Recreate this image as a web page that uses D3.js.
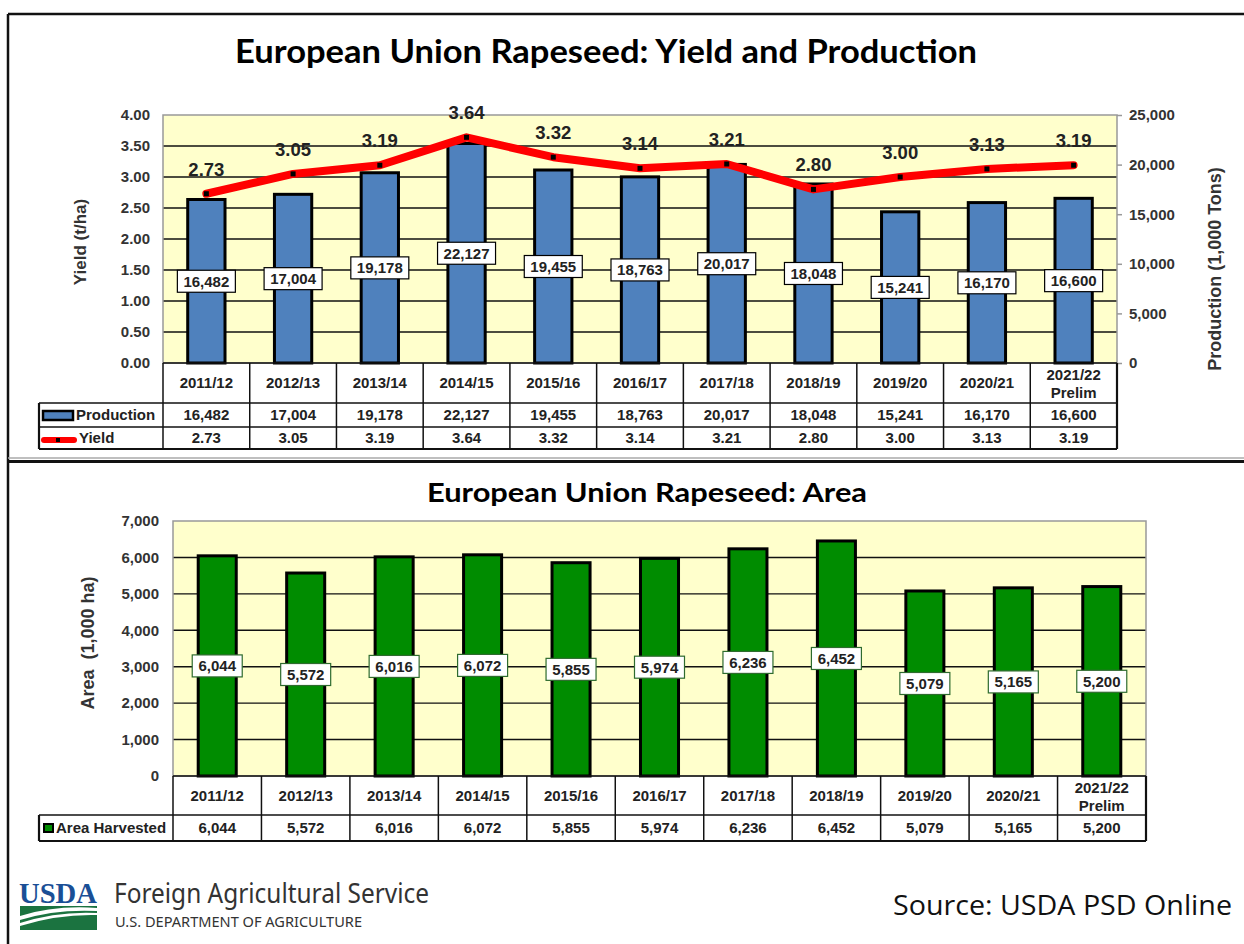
<!DOCTYPE html>
<html>
<head>
<meta charset="utf-8">
<script src="https://cdnjs.cloudflare.com/ajax/libs/d3/7.8.5/d3.min.js"></script>
<style>
  body { margin: 0; background: #fff; }
  svg { display: block; }
  text { font-family: "Liberation Sans", Arial, sans-serif; }
</style>
</head>
<body>
<svg id="chart" width="1244" height="944"></svg>
<script>
// data
var categories = ["2011/12", "2012/13", "2013/14", "2014/15", "2015/16", "2016/17",
                  "2017/18", "2018/19", "2019/20", "2020/21", "2021/22 Prelim"];
var production = [16482, 17004, 19178, 22127, 19455, 18763, 20017, 18048, 15241, 16170, 16600];
var yieldVals = [2.73, 3.05, 3.19, 3.64, 3.32, 3.14, 3.21, 2.80, 3.00, 3.13, 3.19];
var area = [6044, 5572, 6016, 6072, 5855, 5974, 6236, 6452, 5079, 5165, 5200];
var yieldTicks = [0, 0.5, 1, 1.5, 2, 2.5, 3, 3.5, 4];
var prodTicks = [0, 5000, 10000, 15000, 20000, 25000];
var areaTicks = [0, 1000, 2000, 3000, 4000, 5000, 6000, 7000];

var BG = "#ffffcc", BLUE = "#4f81bd", GREEN = "#008c00", RED = "#ff0000";
var comma = d3.format(",");

var svg = d3.select("#chart");

// frame
svg.append("line").attr("x1", 8).attr("x2", 1244).attr("y1", 14).attr("y2", 14)
  .attr("stroke", "#111").attr("stroke-width", 2.5);
svg.append("line").attr("x1", 8).attr("x2", 8).attr("y1", 14).attr("y2", 944)
  .attr("stroke", "#111").attr("stroke-width", 2.5);
svg.append("line").attr("x1", 8).attr("x2", 1244).attr("y1", 458).attr("y2", 458)
  .attr("stroke", "#aaa").attr("stroke-width", 1.5);
svg.append("line").attr("x1", 8).attr("x2", 1244).attr("y1", 461.5).attr("y2", 461.5)
  .attr("stroke", "#111").attr("stroke-width", 3);

function bandScale(x0, x1) {
  return d3.scaleBand().domain(categories).range([x0, x1]).paddingInner(0.57).paddingOuter(0.285);
}

function drawTable(x, y0, headerH, rows, legendX) {
  var g = svg.append("g");
  var step = x.step(), x0 = x.range()[0], x1 = x.range()[1];
  // header
  categories.forEach(function (d) {
    var cx = x(d) + x.bandwidth() / 2;
    var parts = d.split(" ");
    var t = g.append("text").attr("x", cx).attr("text-anchor", "middle")
      .attr("font-size", 15).attr("font-weight", "bold").attr("fill", "#222");
    if (parts.length == 1) {
      t.attr("y", y0 + headerH / 2 + 5).text(d);
    } else {
      t.append("tspan").attr("x", cx).attr("y", y0 + headerH / 2 - 3).text(parts[0]);
      t.append("tspan").attr("x", cx).attr("y", y0 + headerH / 2 + 15).text(parts[1]);
    }
  });
  var yy = y0 + headerH;
  rows.forEach(function (r) {
    categories.forEach(function (d, i) {
      g.append("text").attr("x", x(d) + x.bandwidth() / 2).attr("y", yy + r.h / 2 + 5)
        .attr("text-anchor", "middle").attr("font-size", 15).attr("font-weight", "bold")
        .attr("fill", "#222").text(r.fmt(r.values[i]));
    });
    r.key(g, legendX, yy, r.h);
    g.append("text").attr("x", r.textX).attr("y", yy + r.h / 2 + 5)
      .attr("font-size", 15).attr("font-weight", "bold").attr("fill", "#222").text(r.label);
    yy += r.h;
  });
  var total = yy;
  // grid lines
  var lines = g.append("g").attr("stroke", "#111").attr("stroke-width", 1.5).attr("fill", "none");
  for (var i = 0; i <= categories.length; i++) {
    var xx = x0 + i * step;
    lines.append("line").attr("x1", xx).attr("x2", xx).attr("y1", y0).attr("y2", total);
  }
  lines.append("line").attr("x1", x0).attr("x2", x1).attr("y1", y0).attr("y2", y0);
  var ry = y0 + headerH;
  rows.forEach(function (r) {
    lines.append("line").attr("x1", legendX).attr("x2", x1).attr("y1", ry).attr("y2", ry);
    ry += r.h;
  });
  lines.append("line").attr("x1", legendX).attr("x2", x1).attr("y1", total).attr("y2", total).attr("stroke-width", 2.2);
  lines.append("line").attr("x1", legendX).attr("x2", legendX).attr("y1", y0 + headerH).attr("y2", total).attr("stroke-width", 2.2);
  lines.append("line").attr("x1", x1).attr("x2", x1).attr("y1", y0).attr("y2", total).attr("stroke-width", 2.2);
}

function labelBox(g, cx, cy, txt, w, stroke) {
  g.append("rect").attr("x", cx - w / 2).attr("y", cy - 11).attr("width", w).attr("height", 22)
    .attr("fill", "#fff").attr("stroke", stroke).attr("stroke-width", 1.2);
  g.append("text").attr("x", cx).attr("y", cy + 5.5).attr("text-anchor", "middle")
    .attr("font-size", 15).attr("font-weight", "bold").attr("fill", "#222").text(txt);
}

// ---------- top chart: yield and production ----------
var x1s = bandScale(163, 1117);
var yL = d3.scaleLinear().domain([0, 4]).range([363, 115]);
var yR = d3.scaleLinear().domain([0, 25000]).range([363, 115]);

svg.append("text").attr("x", 606).attr("y", 63).attr("text-anchor", "middle")
  .style("font-family", "Lato, 'Open Sans', sans-serif").attr("font-weight", "bold")
  .attr("font-size", 32).attr("textLength", 742).attr("lengthAdjust", "spacingAndGlyphs")
  .attr("fill", "#000").text("European Union Rapeseed: Yield and Production");

var topG = svg.append("g");
topG.append("rect").attr("x", 163).attr("y", 115).attr("width", 954).attr("height", 248).attr("fill", BG);
topG.selectAll(".grid").data(yieldTicks.slice(1, -1)).join("line")
  .attr("x1", 163).attr("x2", 1117).attr("y1", yL).attr("y2", yL)
  .attr("stroke", "#111").attr("stroke-width", 1.4);
topG.append("rect").attr("x", 163).attr("y", 115).attr("width", 954).attr("height", 248)
  .attr("fill", "none").attr("stroke", "#999").attr("stroke-width", 1.5);

var axL = topG.append("g").attr("transform", "translate(163,0)")
  .call(d3.axisLeft(yL).tickValues(yieldTicks).tickFormat(d3.format(".2f")).tickSize(0).tickPadding(13));
var axR = topG.append("g").attr("transform", "translate(1117,0)")
  .call(d3.axisRight(yR).tickValues(prodTicks).tickFormat(comma).tickSize(5).tickPadding(7));
[axL, axR].forEach(function (a) {
  a.select(".domain").remove();
  a.selectAll("line").attr("stroke", "#999").attr("stroke-width", 1.5);
  a.selectAll("text").attr("font-size", 15).attr("font-weight", "bold").attr("fill", "#333")
    .style("font-family", "'Liberation Sans', Arial, sans-serif");
});

topG.append("text").attr("transform", "translate(86,242) rotate(-90)").attr("text-anchor", "middle")
  .attr("font-size", 17).attr("font-weight", "bold").attr("fill", "#333").text("Yield (t/ha)");
topG.append("text").attr("transform", "translate(1221,269) rotate(-90)").attr("text-anchor", "middle")
  .attr("font-size", 18).attr("font-weight", "bold").attr("fill", "#333").text("Production (1,000 Tons)");

topG.selectAll(".bar").data(production).join("rect")
  .attr("x", function (d, i) { return x1s(categories[i]); })
  .attr("y", function (d) { return yR(d); })
  .attr("width", x1s.bandwidth())
  .attr("height", function (d) { return yR(0) - yR(d); })
  .attr("fill", BLUE).attr("stroke", "#000").attr("stroke-width", 3);

var line = d3.line()
  .x(function (d, i) { return x1s(categories[i]) + x1s.bandwidth() / 2; })
  .y(function (d) { return yL(d); });
topG.append("path").datum(yieldVals).attr("d", line).attr("fill", "none")
  .attr("stroke", RED).attr("stroke-width", 8).attr("stroke-linecap", "round").attr("stroke-linejoin", "round");
topG.selectAll(".dot").data(yieldVals).join("rect")
  .attr("x", function (d, i) { return x1s(categories[i]) + x1s.bandwidth() / 2 - 2.5; })
  .attr("y", function (d) { return yL(d) - 2.5; })
  .attr("width", 5).attr("height", 5).attr("fill", "#000");
topG.selectAll(".ylab").data(yieldVals).join("text")
  .attr("x", function (d, i) { return x1s(categories[i]) + x1s.bandwidth() / 2; })
  .attr("y", function (d) { return yL(d) - 18; })
  .attr("text-anchor", "middle").attr("font-size", 18.5).attr("font-weight", "bold").attr("fill", "#222")
  .text(d3.format(".2f"));

production.forEach(function (d, i) {
  labelBox(topG, x1s(categories[i]) + x1s.bandwidth() / 2, (yR(d) + yR(0)) / 2, comma(d), 58, "#000");
});

drawTable(x1s, 363, 40, [
  { label: "Production", values: production, fmt: comma, h: 24, textX: 76,
    key: function (g, lx, y, h) {
      g.append("rect").attr("x", 43).attr("y", y + 8).attr("width", 30).attr("height", 9)
        .attr("fill", BLUE).attr("stroke", "#000").attr("stroke-width", 2.5);
    } },
  { label: "Yield", values: yieldVals, fmt: d3.format(".2f"), h: 22, textX: 79,
    key: function (g, lx, y, h) {
      g.append("line").attr("x1", 44).attr("x2", 74).attr("y1", y + 13).attr("y2", y + 13)
        .attr("stroke", RED).attr("stroke-width", 6).attr("stroke-linecap", "round");
      g.append("rect").attr("x", 56).attr("y", y + 11).attr("width", 4).attr("height", 4).attr("fill", "#000");
    } }
], 39);

// ---------- bottom chart: area ----------
var x2s = bandScale(173, 1146);
var yA = d3.scaleLinear().domain([0, 7000]).range([776, 521]);

svg.append("text").attr("x", 647).attr("y", 502).attr("text-anchor", "middle")
  .style("font-family", "Lato, 'Open Sans', sans-serif").attr("font-weight", "bold")
  .attr("font-size", 27).attr("textLength", 440).attr("lengthAdjust", "spacingAndGlyphs")
  .attr("fill", "#000").text("European Union Rapeseed: Area");

var bot = svg.append("g");
bot.append("rect").attr("x", 173).attr("y", 521).attr("width", 973).attr("height", 255).attr("fill", BG);
bot.selectAll(".grid").data(areaTicks.slice(1, -1)).join("line")
  .attr("x1", 173).attr("x2", 1146).attr("y1", yA).attr("y2", yA)
  .attr("stroke", "#111").attr("stroke-width", 1.4);
bot.append("rect").attr("x", 173).attr("y", 521).attr("width", 973).attr("height", 255)
  .attr("fill", "none").attr("stroke", "#999").attr("stroke-width", 1.5);

var axA = bot.append("g").attr("transform", "translate(173,0)")
  .call(d3.axisLeft(yA).tickValues(areaTicks).tickFormat(comma).tickSize(0).tickPadding(14));
axA.select(".domain").remove();
axA.selectAll("text").attr("font-size", 15).attr("font-weight", "bold").attr("fill", "#333")
  .style("font-family", "'Liberation Sans', Arial, sans-serif");

bot.append("text").attr("transform", "translate(94,643) rotate(-90)").attr("text-anchor", "middle")
  .attr("font-size", 18).attr("font-weight", "bold").attr("fill", "#333")
  .style("white-space", "pre").text("Area  (1,000 ha)");

bot.selectAll(".bar").data(area).join("rect")
  .attr("x", function (d, i) { return x2s(categories[i]); })
  .attr("y", function (d) { return yA(d); })
  .attr("width", x2s.bandwidth())
  .attr("height", function (d) { return yA(0) - yA(d); })
  .attr("fill", GREEN).attr("stroke", "#000").attr("stroke-width", 3);

area.forEach(function (d, i) {
  labelBox(bot, x2s(categories[i]) + x2s.bandwidth() / 2, (yA(d) + yA(0)) / 2, comma(d), 50, "#2e6b2e");
});

drawTable(x2s, 776, 39, [
  { label: "Area Harvested", values: area, fmt: comma, h: 26, textX: 56,
    key: function (g, lx, y, h) {
      g.append("rect").attr("x", 44).attr("y", y + 9).attr("width", 9).attr("height", 8)
        .attr("fill", GREEN).attr("stroke", "#000").attr("stroke-width", 2);
    } }
], 39);

// ---------- footer ----------
var logo = svg.append("g");
logo.append("text").attr("x", 19).attr("y", 903).style("font-family", "'Liberation Serif', serif")
  .attr("font-size", 30).attr("font-weight", "bold").attr("fill", "#1a4f96").attr("textLength", 78)
  .attr("lengthAdjust", "spacingAndGlyphs").text("USDA");
logo.append("rect").attr("x", 20).attr("y", 906).attr("width", 77).attr("height", 24).attr("fill", "#1b7340");
logo.append("path").attr("d", "M20,916 Q55,905 97,908 L97,911 Q55,909 20,920 Z").attr("fill", "#fff");
logo.append("path").attr("d", "M20,923 Q58,911 97,913 L97,915 Q58,914 20,926 Z").attr("fill", "#fff");

svg.append("text").attr("x", 114).attr("y", 903).style("font-family", "'Noto Sans', sans-serif")
  .attr("font-size", 27).attr("fill", "#333").attr("textLength", 315)
  .attr("lengthAdjust", "spacingAndGlyphs").text("Foreign Agricultural Service");
svg.append("text").attr("x", 115).attr("y", 927).style("font-family", "'Noto Sans', sans-serif")
  .attr("font-size", 13.5).attr("fill", "#333").attr("textLength", 247)
  .attr("lengthAdjust", "spacingAndGlyphs").text("U.S. DEPARTMENT OF AGRICULTURE");
svg.append("text").attr("x", 893).attr("y", 915).style("font-family", "'Open Sans', sans-serif")
  .attr("font-size", 28).attr("fill", "#111").attr("textLength", 339)
  .attr("lengthAdjust", "spacingAndGlyphs").text("Source: USDA PSD Online");
</script>
</body>
</html>
